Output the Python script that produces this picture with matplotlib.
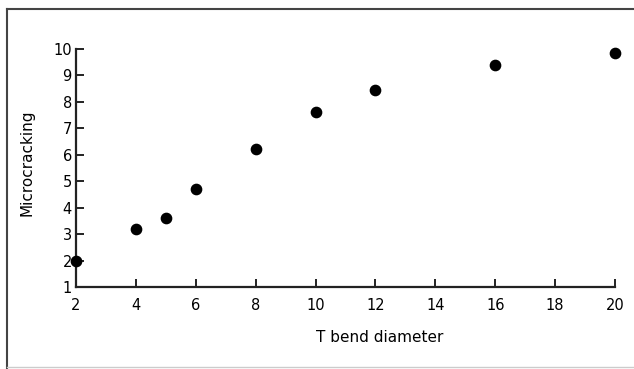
import matplotlib
matplotlib.use("Agg")
import matplotlib.pyplot as plt
from matplotlib.lines import Line2D

# Data
t_bend = [2, 4, 5, 6, 8, 10, 12, 16, 20]
microcracking = [2.0, 3.2, 3.6, 4.7, 6.2, 7.6, 8.45, 9.4, 9.85]
x_ticks = [2, 4, 6, 8, 10, 12, 14, 16, 18, 20]
y_ticks = [1, 2, 3, 4, 5, 6, 7, 8, 9, 10]

plt.rcParams['font.family'] = ['DejaVu Sans']

W, H = 634, 369
fig = plt.figure(figsize=(W / 100, H / 100), dpi=100)
fig.patch.set_facecolor('white')

ax = fig.add_axes([76 / W, 1 - 287 / H, (615 - 76) / W, (287 - 49) / H])
ax.plot(t_bend, microcracking, 'o', color='black', markersize=7.4,
        clip_on=False, zorder=5)

ax.set_xlim(2, 20)
ax.set_ylim(1, 10)
ax.set_xticks(x_ticks)
ax.set_yticks(y_ticks)
ax.set_xticklabels([str(v) for v in x_ticks], fontsize=10.5)
ax.set_yticklabels([str(v) for v in y_ticks], fontsize=10.5)

for s in ['top', 'right']:
    ax.spines[s].set_visible(False)
for s in ['left', 'bottom']:
    ax.spines[s].set_linewidth(1.6)
    ax.spines[s].set_color('#222222')

ax.tick_params(axis='both', direction='in', length=6, width=1.4,
               colors='#222222', labelcolor='black')
ax.tick_params(axis='x', pad=8)
ax.tick_params(axis='y', pad=3)
ax.patch.set_alpha(0)

# Axis labels (positioned as in the reference)
fig.text(380 / W, 1 - 337 / H, 'T bend diameter', ha='center', va='center',
         fontsize=11, color='black')
fig.text(27 / W, 1 - 163 / H, 'Microcracking', ha='center', va='center',
         rotation=90, fontsize=11, color='black')

# Outer frame of the scanned figure
fig.add_artist(Line2D([7 / W, 1.0], [1 - 9 / H, 1 - 9 / H],
                      transform=fig.transFigure, color='#444444', lw=1.5))
fig.add_artist(Line2D([7 / W, 7 / W], [0, 1 - 9 / H],
                      transform=fig.transFigure, color='#444444', lw=1.5))
fig.add_artist(Line2D([7 / W, 1.0], [1 - 367 / H, 1 - 367 / H],
                      transform=fig.transFigure, color='#cccccc', lw=1.0))

fig.savefig('out.png', dpi=100, facecolor='white')
